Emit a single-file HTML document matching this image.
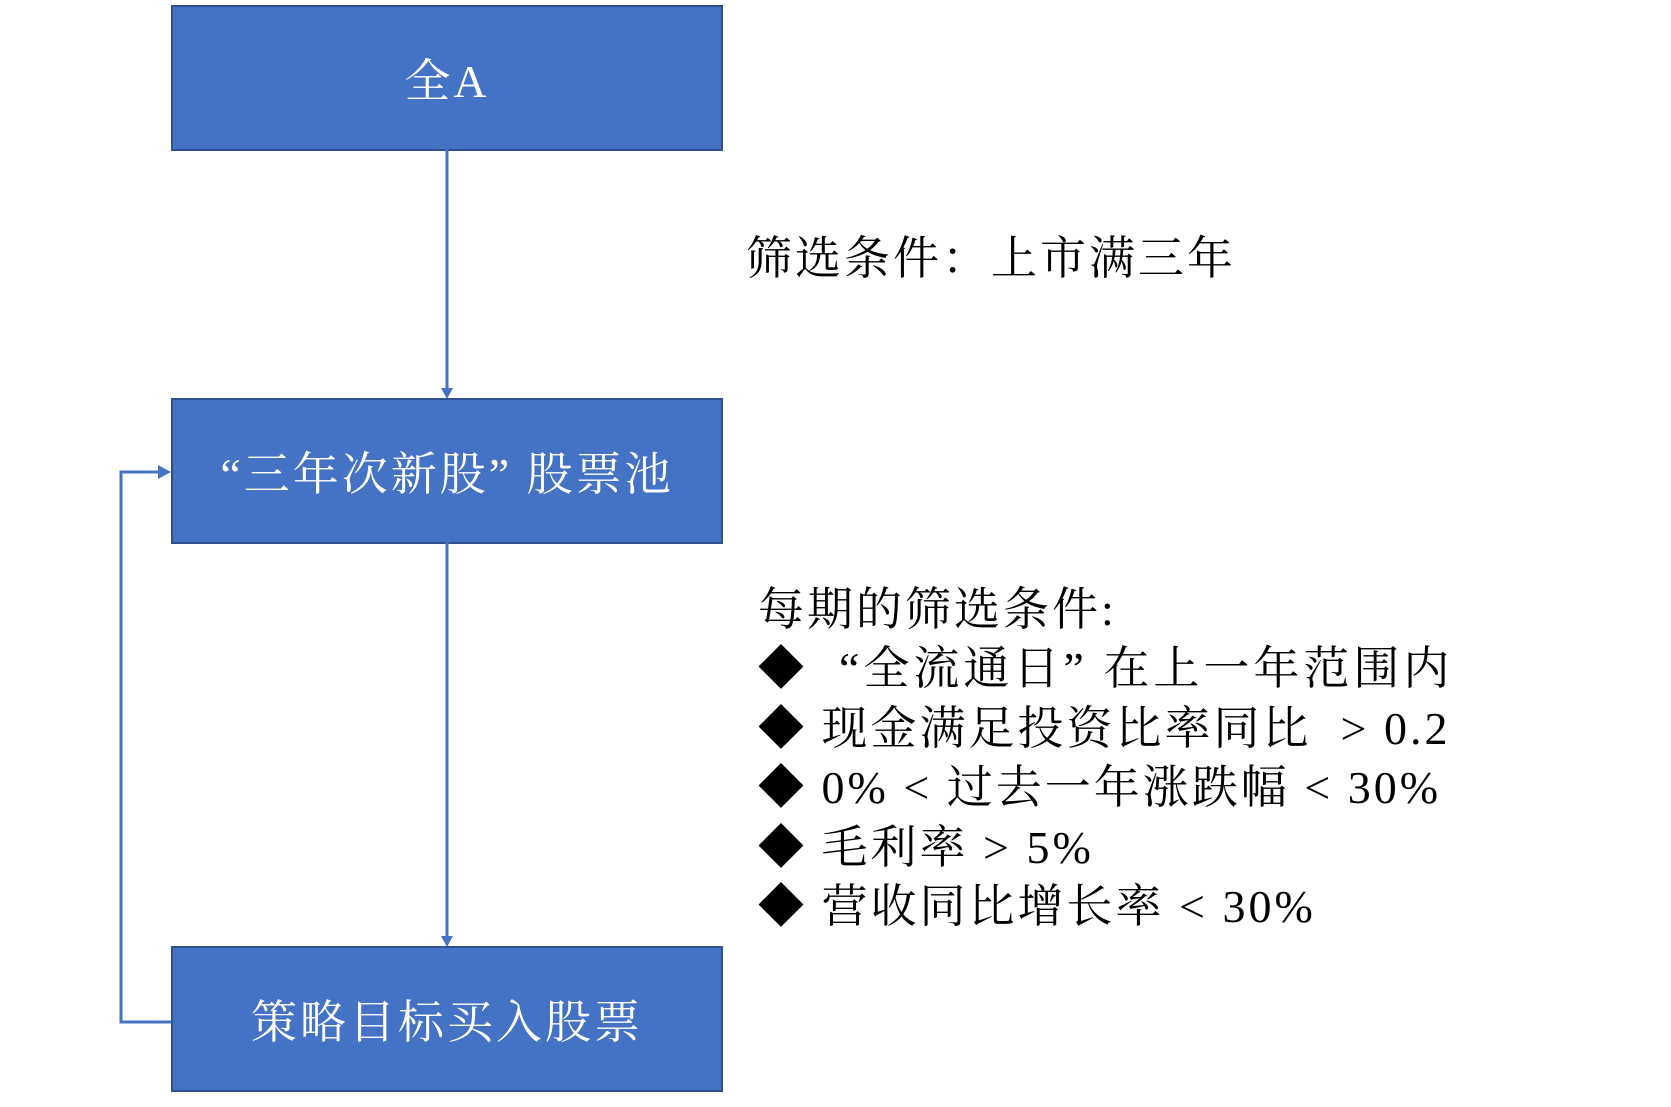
<!DOCTYPE html>
<html><head><meta charset="utf-8"><style>
body{margin:0;width:1671px;height:1107px;background:#fff;position:relative;overflow:hidden;font-family:"Liberation Serif","Noto Serif CJK SC",serif}
.box{position:absolute;left:171px;width:548px;background:#4472C4;border:2px solid #2F528F;color:#fff;display:flex;align-items:center;justify-content:center;font-size:46px;letter-spacing:3px}
.t{position:absolute;color:#000;font-size:46px;letter-spacing:3px;white-space:pre;line-height:1}
</style></head><body>
<div class="box" style="top:5px;height:142px">全A</div>
<div class="box" style="top:398px;height:142px">“三年次新股” 股票池</div>
<div class="box" style="top:946px;height:142px">策略目标买入股票</div>
<svg width="1671" height="1107" style="position:absolute;left:0;top:0">
<g stroke="#4472C4" stroke-width="3" fill="none">
<line x1="447" y1="149" x2="447" y2="390"/>
<line x1="447" y1="542" x2="447" y2="938"/>
<polyline points="171,1022 121,1022 121,472 160,472"/>
</g>
<g fill="#4472C4">
<polygon points="441,388 453,388 447,399"/>
<polygon points="441,936 453,936 447,947"/>
<polygon points="158,465 158,479 171,472"/>
</g>
</svg>
<div class="t" style="left:746px;top:236px">筛选条件：上市满三年</div>
<div class="t" style="left:758px;top:587px">每期的筛选条件:</div>
<div class="t" style="left:758px;top:646px;letter-spacing:4px">◆  “全流通日” 在上一年范围内</div>
<div class="t" style="left:758px;top:706px">◆ 现金满足投资比率同比  &gt; 0.2</div>
<div class="t" style="left:758px;top:765px">◆ 0% &lt; 过去一年涨跌幅 &lt; 30%</div>
<div class="t" style="left:758px;top:825px">◆ 毛利率 &gt; 5%</div>
<div class="t" style="left:758px;top:884px">◆ 营收同比增长率 &lt; 30%</div>
</body></html>
